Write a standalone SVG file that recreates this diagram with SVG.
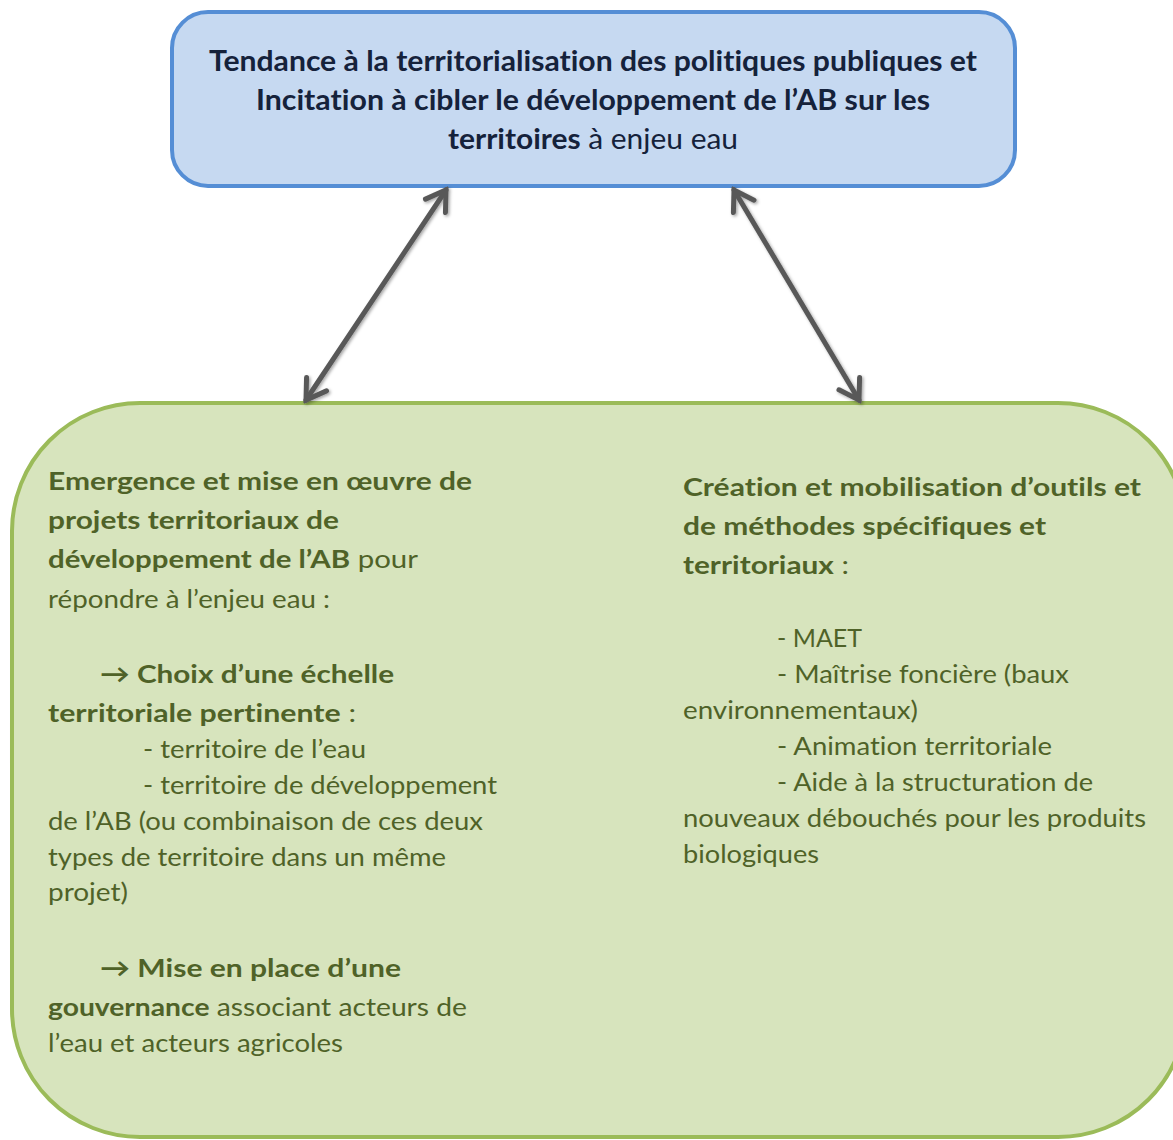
<svg xmlns="http://www.w3.org/2000/svg" width="1173" height="1140" viewBox="0 0 1173 1140">
<defs>
<style>
.t{font-family:Lato,"Open Sans","DejaVu Sans",sans-serif;font-variant-ligatures:none;font-feature-settings:"liga" 0;}
.top{font-size:29px;fill:#15223b;}
.g{font-size:25.5px;fill:#4f6228;}
.b{font-weight:bold;}
.ar{stroke:#595959;stroke-width:5;fill:none;stroke-linecap:round;}
</style>
<marker id="ah" viewBox="-24 -15 28 30" markerWidth="28" markerHeight="30" refX="0" refY="0" orient="auto-start-reverse" markerUnits="userSpaceOnUse">
<path d="M-19,-12 L0,0 L-19,12" fill="none" stroke="#595959" stroke-width="5" stroke-linecap="round" stroke-linejoin="miter"/>
</marker>
<filter id="sh" x="-20%" y="-20%" width="140%" height="140%">
<feDropShadow dx="1.5" dy="1.5" stdDeviation="1.5" flood-color="#000" flood-opacity="0.35"/>
</filter>
</defs>
<rect width="1173" height="1140" fill="#ffffff"/>
<g id="top-node">
<rect x="172" y="12" width="843" height="174" rx="36" ry="36" fill="#c6d9f1" stroke="#558ed5" stroke-width="4"/>
<text class="t top b" x="209" y="71" textLength="768" lengthAdjust="spacingAndGlyphs">Tendance à la territorialisation des politiques publiques et</text>
<text class="t top b" x="256" y="110" textLength="674" lengthAdjust="spacingAndGlyphs">Incitation  à cibler le développement de l’AB sur les</text>
<text class="t top" x="448" y="149" textLength="290" lengthAdjust="spacingAndGlyphs"><tspan class="b">territoires</tspan> à enjeu eau</text>
</g>
<g id="bottom-node">
<rect x="12" y="403" width="1174" height="734" rx="128" ry="128" fill="#d7e4bd" stroke="#9bbb59" stroke-width="4"/>
<g class="t g">
<text x="48" y="490" class="b" textLength="424" lengthAdjust="spacingAndGlyphs">Emergence et mise en œuvre de</text>
<text x="48" y="529" class="b" textLength="291" lengthAdjust="spacingAndGlyphs">projets territoriaux de</text>
<text x="48" y="568" textLength="370" lengthAdjust="spacingAndGlyphs"><tspan class="b">développement de l’AB</tspan> pour</text>
<text x="48" y="608" textLength="282" lengthAdjust="spacingAndGlyphs">répondre à l’enjeu eau :</text>
<text x="100" y="683" class="b" textLength="294" lengthAdjust="spacingAndGlyphs">→ Choix d’une échelle</text>
<text x="48" y="722" textLength="308" lengthAdjust="spacingAndGlyphs"><tspan class="b">territoriale pertinente</tspan> :</text>
<text x="143" y="758" textLength="223" lengthAdjust="spacingAndGlyphs">- territoire de l’eau</text>
<text x="143" y="794" textLength="354" lengthAdjust="spacingAndGlyphs">- territoire de développement</text>
<text x="48" y="830" textLength="435" lengthAdjust="spacingAndGlyphs">de l’AB (ou combinaison de ces deux</text>
<text x="48" y="866" textLength="398" lengthAdjust="spacingAndGlyphs">types de territoire dans un même</text>
<text x="48" y="901" textLength="80" lengthAdjust="spacingAndGlyphs">projet)</text>
<text x="100" y="977" class="b" textLength="301" lengthAdjust="spacingAndGlyphs">→ Mise en place d’une</text>
<text x="48" y="1016" textLength="419" lengthAdjust="spacingAndGlyphs"><tspan class="b">gouvernance</tspan> associant acteurs de</text>
<text x="48" y="1052" textLength="295" lengthAdjust="spacingAndGlyphs">l’eau et acteurs agricoles</text>
<text x="683" y="496" class="b" textLength="458" lengthAdjust="spacingAndGlyphs">Création et mobilisation d’outils et</text>
<text x="683" y="535" class="b" textLength="363" lengthAdjust="spacingAndGlyphs">de méthodes spécifiques et</text>
<text x="683" y="574" textLength="166" lengthAdjust="spacingAndGlyphs"><tspan class="b">territoriaux</tspan> :</text>
<text x="777" y="647" textLength="85" lengthAdjust="spacingAndGlyphs">- MAET</text>
<text x="777" y="683" textLength="292" lengthAdjust="spacingAndGlyphs">- Maîtrise foncière (baux</text>
<text x="683" y="719" textLength="235" lengthAdjust="spacingAndGlyphs">environnementaux)</text>
<text x="777" y="755" textLength="275" lengthAdjust="spacingAndGlyphs">- Animation territoriale</text>
<text x="777" y="791" textLength="316" lengthAdjust="spacingAndGlyphs">- Aide à la structuration de</text>
<text x="683" y="827" textLength="463" lengthAdjust="spacingAndGlyphs">nouveaux débouchés pour les produits</text>
<text x="683" y="863" textLength="136" lengthAdjust="spacingAndGlyphs">biologiques</text>
</g>
</g>
<g id="connectors" filter="url(#sh)">
<path class="ar" d="M446,190 L306,400" marker-start="url(#ah)" marker-end="url(#ah)"/>
<path class="ar" d="M734,190 L859,400" marker-start="url(#ah)" marker-end="url(#ah)"/>
</g>
</svg>
